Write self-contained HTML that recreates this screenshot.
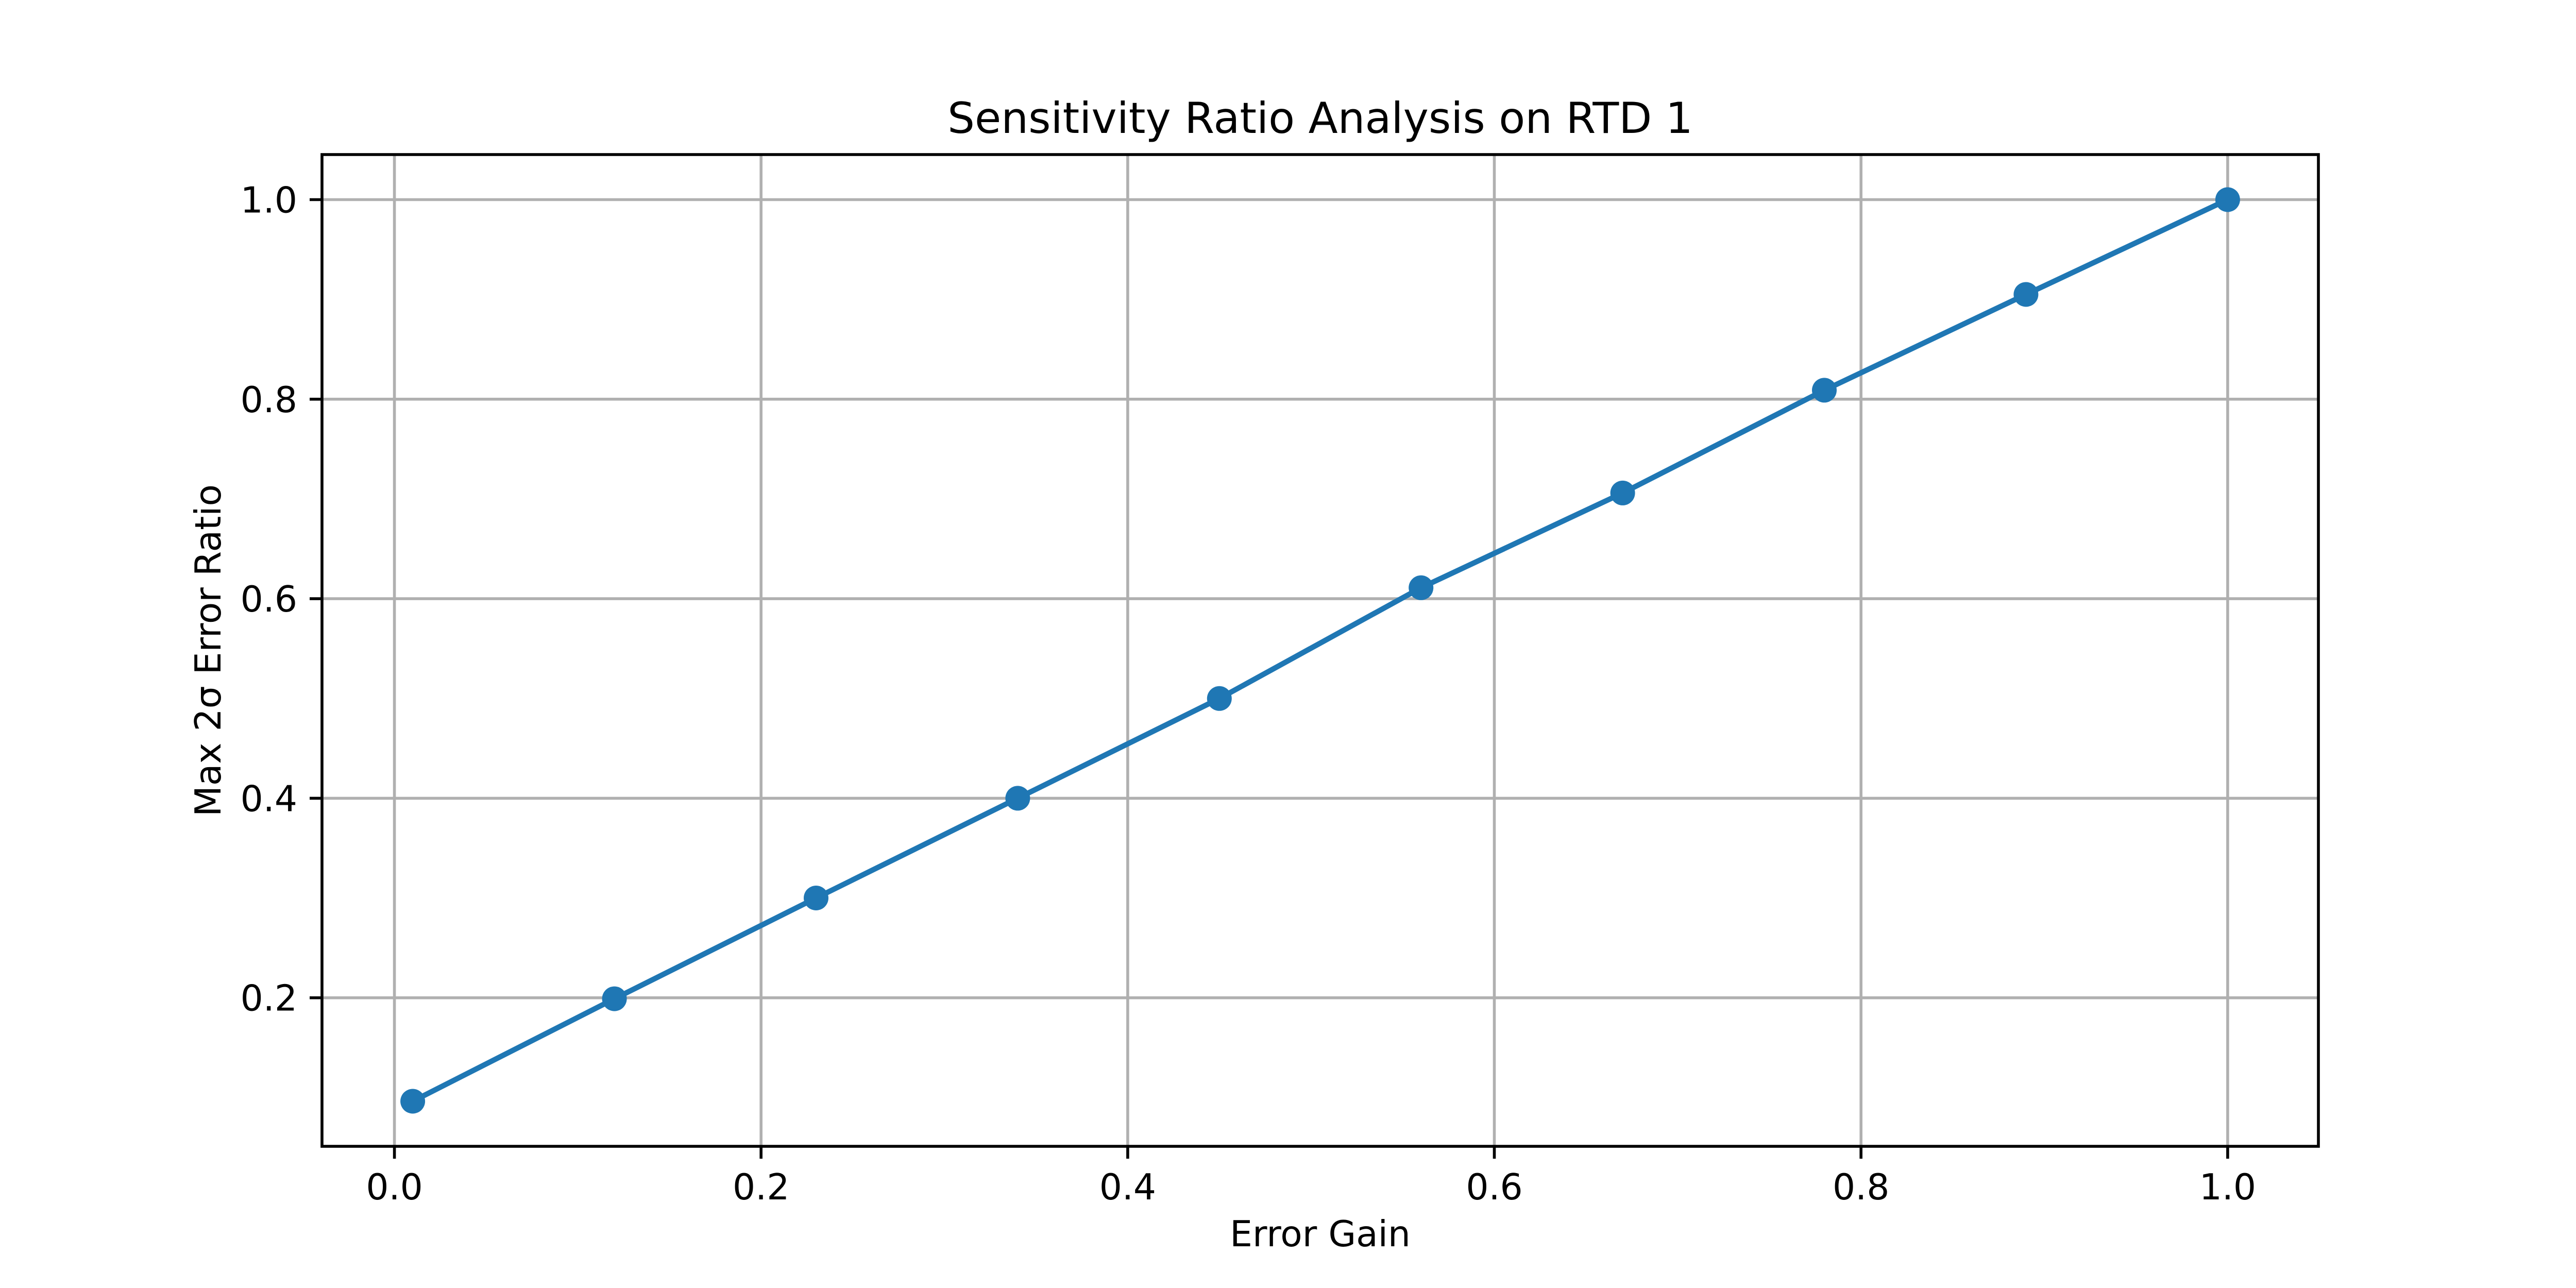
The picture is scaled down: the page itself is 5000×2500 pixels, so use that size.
<!DOCTYPE html>
<html><head><meta charset="utf-8"><style>html,body{margin:0;padding:0;background:#fff}svg{display:block}</style></head><body>
<svg width="5000" height="2500" viewBox="0 0 5000 2500" xmlns="http://www.w3.org/2000/svg" font-family="DejaVu Sans, Liberation Sans, sans-serif">
<rect width="5000" height="2500" fill="#fff"/>
<g stroke="#b0b0b0" stroke-width="5.6">
<line x1="765.6" y1="300" x2="765.6" y2="2225"/>
<line x1="1477.2" y1="300" x2="1477.2" y2="2225"/>
<line x1="2188.9" y1="300" x2="2188.9" y2="2225"/>
<line x1="2900.5" y1="300" x2="2900.5" y2="2225"/>
<line x1="3612.2" y1="300" x2="3612.2" y2="2225"/>
<line x1="4323.9" y1="300" x2="4323.9" y2="2225"/>
<line x1="625" y1="387.5" x2="4500" y2="387.5"/>
<line x1="625" y1="774.8" x2="4500" y2="774.8"/>
<line x1="625" y1="1162.1" x2="4500" y2="1162.1"/>
<line x1="625" y1="1549.4" x2="4500" y2="1549.4"/>
<line x1="625" y1="1936.7" x2="4500" y2="1936.7"/>
</g>
<polyline fill="none" stroke="#1f77b4" stroke-width="10.4" stroke-linejoin="round" stroke-linecap="square" points="801.1,2137.5 1192.6,1938.6 1584,1743 1975.4,1549.4 2366.8,1355.8 2758.2,1140.8 3149.6,956.9 3541,757.4 3932.4,571.5 4323.9,387.5"/>
<g fill="#1f77b4">
<circle cx="801.1" cy="2137.5" r="24"/><circle cx="1192.6" cy="1938.6" r="24"/><circle cx="1584" cy="1743" r="24"/><circle cx="1975.4" cy="1549.4" r="24"/><circle cx="2366.8" cy="1355.8" r="24"/><circle cx="2758.2" cy="1140.8" r="24"/><circle cx="3149.6" cy="956.9" r="24"/><circle cx="3541" cy="757.4" r="24"/><circle cx="3932.4" cy="571.5" r="24"/><circle cx="4323.9" cy="387.5" r="24"/>
</g>
<rect x="625" y="300" width="3875" height="1925" fill="none" stroke="#000" stroke-width="5.6" stroke-linejoin="miter"/>
<g stroke="#000" stroke-width="5.6">
<line x1="765.6" y1="2225" x2="765.6" y2="2249"/>
<line x1="1477.2" y1="2225" x2="1477.2" y2="2249"/>
<line x1="2188.9" y1="2225" x2="2188.9" y2="2249"/>
<line x1="2900.5" y1="2225" x2="2900.5" y2="2249"/>
<line x1="3612.2" y1="2225" x2="3612.2" y2="2249"/>
<line x1="4323.9" y1="2225" x2="4323.9" y2="2249"/>
<line x1="601" y1="387.5" x2="625" y2="387.5"/>
<line x1="601" y1="774.8" x2="625" y2="774.8"/>
<line x1="601" y1="1162.1" x2="625" y2="1162.1"/>
<line x1="601" y1="1549.4" x2="625" y2="1549.4"/>
<line x1="601" y1="1936.7" x2="625" y2="1936.7"/>
</g>
<g font-size="69.4" fill="#000" text-anchor="middle">
<text x="765.6" y="2328">0.0</text>
<text x="1477.2" y="2328">0.2</text>
<text x="2188.9" y="2328">0.4</text>
<text x="2900.5" y="2328">0.6</text>
<text x="3612.2" y="2328">0.8</text>
<text x="4323.9" y="2328">1.0</text>
</g>
<g font-size="69.4" fill="#000" text-anchor="end">
<text x="577" y="412.5">1.0</text>
<text x="577" y="799.8">0.8</text>
<text x="577" y="1187.1">0.6</text>
<text x="577" y="1574.4">0.4</text>
<text x="577" y="1961.7">0.2</text>
</g>
<text x="2562.5" y="2419" font-size="69.4" text-anchor="middle">Error Gain</text>
<text transform="translate(428,1262.5) rotate(-90)" font-size="69.4" text-anchor="middle">Max 2σ Error Ratio</text>
<text x="2562.5" y="258" font-size="83.3" text-anchor="middle">Sensitivity Ratio Analysis on RTD 1</text>
</svg>
</body></html>
